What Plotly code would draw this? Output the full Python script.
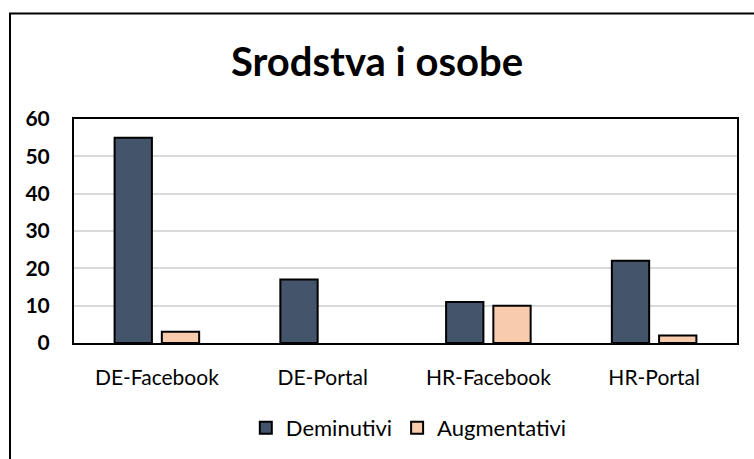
import plotly.graph_objects as go

categories = ["DE-Facebook", "DE-Portal", "HR-Facebook", "HR-Portal"]
deminutivi = [55, 17, 11, 22]
augmentativi = [3, 0, 10, 2]
y_ticks = [0, 10, 20, 30, 40, 50, 60]

def hide_zero(vals):
    return [v if v != 0 else None for v in vals]

fig = go.Figure()
fig.add_trace(go.Bar(x=categories, y=hide_zero(deminutivi), name="Deminutivi",
                     marker=dict(color="#44546A", line=dict(color="black", width=2))))
fig.add_trace(go.Bar(x=categories, y=hide_zero(augmentativi), name="Augmentativi",
                     marker=dict(color="#F8CBAD", line=dict(color="black", width=2))))

fig.update_layout(
    width=754, height=459,
    margin=dict(l=74, r=17, t=119, b=115),
    paper_bgcolor="white", plot_bgcolor="white",
    barmode="group", bargap=0.43, bargroupgap=0.21,
    title=dict(text="<b>Srodstva i osobe</b>", x=0.5, xanchor="center",
               y=1 - 62 / 459, yanchor="middle",
               font=dict(family="Lato", size=40, color="black")),
    font=dict(family="Lato", color="black"),
    legend=dict(orientation="h", x=0.505, xanchor="center", y=-0.373, yanchor="middle",
                font=dict(size=22, color="black"), itemwidth=30, traceorder="normal"),
    showlegend=True,
)
fig.update_xaxes(showline=True, linecolor="black", linewidth=2, mirror=True,
                 ticks="outside", ticklen=15, tickcolor="rgba(0,0,0,0)",
                 tickfont=dict(size=21, family="Lato"))
fig.update_yaxes(range=[0, 60], tickvals=y_ticks, showline=True, linecolor="black",
                 linewidth=2, mirror=True, showgrid=True, gridcolor="#D9D9D9", gridwidth=2,
                 zeroline=False, ticks="outside", ticklen=18, tickcolor="rgba(0,0,0,0)",
                 tickfont=dict(size=21, family="Lato", weight="bold"))

# outer chart frame
fig.add_shape(type="rect", xref="paper", yref="paper",
              x0=(10 - 74) / 663, x1=2, y0=-2, y1=(344 - 13) / 225,
              line=dict(color="black", width=2), fillcolor="rgba(0,0,0,0)", layer="above")

fig.write_html("out.html", config={"displayModeBar": False},
               post_script="document.body.style.margin='0';")
